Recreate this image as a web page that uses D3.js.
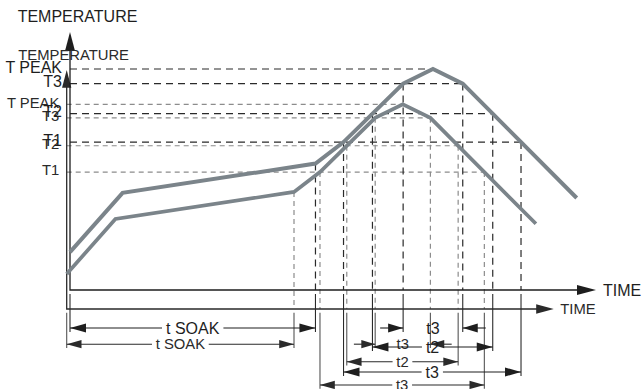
<!DOCTYPE html>
<html>
<head>
<meta charset="utf-8">
<script src="https://cdn.jsdelivr.net/npm/d3@7"></script>
<style>
body{margin:0;background:#fff}
svg{display:block;font-family:"Liberation Sans",Arial,Helvetica,sans-serif}
</style>
</head>
<body>
<svg width="642" height="389"></svg>
<script>
// reflow profile, time vs temperature (chart units, axes run 0..300)
const profileTime = [0, 30, 140, 156, 190, 207, 224, 289]
const profileTemp = [44, 113, 147, 172, 240, 257, 240, 107]

// temperature levels marked on the y axis
const levelNames = ["T1", "T2", "T3", "T PEAK"]
const levelTemps = [172, 205, 240, 257]

// the soak period
const soakStart = 0
const soakEnd = 140

// labels of the spans above T3, T2 and T1 (as printed)
const spanLevels = ["T3", "T2", "T1"]
const spanLabels = ["t3", "t2", "t3"]
const soakLabel = "t SOAK"

const axisLabelY = "TEMPERATURE"
const axisLabelX = "TIME"

// the figure is printed twice, a smaller copy offset behind the first one
const copies = [
	{x0: 66.7, y0: 309, k: 0.926, dash: "5,4", dashColor: "#8c8c8c", ink: "#2a2a2a", ext: "#555"},
	{x0: 70, y0: 290, k: 1, dash: "7,5", dashColor: "#2a2a2a", ink: "#1e1e1e", ext: "#2a2a2a"}
]

// rows of the dimension lines, px below the time axis (unscaled)
const rowOf = {soak: 38, T3: 38, T2: 57, T1: 82}

const curveColor = "#7b848a"

const svg = d3.select("svg")
const layers = {}
;["dash", "ext", "axis", "curve", "dims", "text"].forEach(n => layers[n] = svg.append("g"))

const profile = profileTime.map((t, i) => ({t: t, v: profileTemp[i]}))

// first rising and last falling crossing of a level
const crossings = function(level){
	let up = null, down = null
	for (let i = 0; i < profile.length - 1; i++){
		const a = profile[i], b = profile[i+1]
		const lo = Math.min(a.v, b.v), hi = Math.max(a.v, b.v)
		if (level < lo || level > hi || a.v === b.v) continue
		const t = a.t + (level - a.v) / (b.v - a.v) * (b.t - a.t)
		if (up === null) up = t
		down = t
	}
	return [up, down]
}

const tempAt = function(t){
	return d3.scaleLinear().domain(profileTime).range(profileTemp)(t)
}

// filled arrow head, tip at (x,y), dir = +1 points right, -1 left, "up" points up
const head = function(g, x, y, dir, len, hw, color){
	let pts
	if (dir === "up") pts = [[x, y], [x - hw, y + len], [x + hw, y + len]]
	else pts = [[x, y], [x - dir*len, y - hw], [x - dir*len, y + hw]]
	g.append("path")
		.attr("d", "M" + pts.map(p => p.join(",")).join("L") + "Z")
		.attr("fill", color)
}

copies.forEach(c => {
	const k = c.k
	const x = d3.scaleLinear().domain([0, 300]).range([c.x0, c.x0 + 526*k])
	const y = d3.scaleLinear().domain([0, 300]).range([c.y0, c.y0 - 258*k])
	const fs = 16*k

	// dashed guides
	levelTemps.forEach((lv, i) => {
		const [up, down] = crossings(lv)
		layers.dash.append("line")
			.attr("x1", x(0)).attr("x2", x(down))
			.attr("y1", y(lv)).attr("y2", y(lv))
			.attr("stroke", c.dashColor).attr("stroke-width", 1.2)
			.attr("stroke-dasharray", c.dash)
		if (levelNames[i] === "T PEAK") return
		;[up, down].forEach(t => {
			layers.dash.append("line")
				.attr("x1", x(t)).attr("x2", x(t))
				.attr("y1", y(lv)).attr("y2", y(0))
				.attr("stroke", c.dashColor).attr("stroke-width", 1.2)
				.attr("stroke-dasharray", c.dash)
		})
	})
	layers.dash.append("line")
		.attr("x1", x(soakEnd)).attr("x2", x(soakEnd))
		.attr("y1", y(tempAt(soakEnd))).attr("y2", y(0))
		.attr("stroke", c.dashColor).attr("stroke-width", 1.2)
		.attr("stroke-dasharray", c.dash)

	// axes
	const top = y(300), right = x(300)
	layers.axis.append("path")
		.attr("d", `M${x(0)},${top + 10} V${y(0)} H${right - 10}`)
		.attr("fill", "none").attr("stroke", c.ink).attr("stroke-width", 1.3)
	head(layers.axis, x(0), top, "up", 19*k, 5*k, c.ink)
	head(layers.axis, right, y(0), 1, 19*k, 5*k, c.ink)

	layers.text.append("text")
		.attr("x", x(0) + 7.5*k).attr("y", top - 16*k)
		.attr("dy", "0.35em").attr("text-anchor", "middle")
		.attr("font-size", fs).attr("fill", c.ink)
		.text(axisLabelY)
	layers.text.append("text")
		.attr("x", right + 7*k).attr("y", y(0))
		.attr("dy", "0.35em").attr("font-size", fs).attr("fill", c.ink)
		.text(axisLabelX)

	levelTemps.forEach((lv, i) => {
		layers.text.append("text")
			.attr("x", x(0) - 8*k).attr("y", y(lv) - 2*k)
			.attr("dy", "0.35em").attr("text-anchor", "end")
			.attr("font-size", fs).attr("fill", c.ink)
			.text(levelNames[i])
	})

	// extension lines below the axis
	const ext = function(t, row){
		layers.ext.append("line")
			.attr("x1", x(t)).attr("x2", x(t))
			.attr("y1", y(0) + 4*k).attr("y2", y(0) + (row + 4)*k)
			.attr("stroke", c.ext).attr("stroke-width", 1.1)
	}

	// dimension line with label, arrows inside or outside (outer)
	const dim = function(a, b, row, label, outer){
		const ry = y(0) + row*k
		const g = layers.dims
		const cx = (x(a) + x(b))/2
		const txt = g.append("text")
			.attr("x", cx).attr("y", ry).attr("dy", "0.35em")
			.attr("text-anchor", "middle").attr("font-size", fs).attr("fill", c.ink)
			.text(label)
		const w = txt.node().getComputedTextLength()/2 + 4*k
		if (outer){
			g.append("line").attr("x1", x(a) - 23*k).attr("x2", x(a)).attr("y1", ry).attr("y2", ry)
				.attr("stroke", c.ink).attr("stroke-width", 1.1)
			g.append("line").attr("x1", x(b) + 23*k).attr("x2", x(b)).attr("y1", ry).attr("y2", ry)
				.attr("stroke", c.ink).attr("stroke-width", 1.1)
			head(g, x(a), ry, 1, 15*k, 4.5*k, c.ink)
			head(g, x(b), ry, -1, 15*k, 4.5*k, c.ink)
		} else {
			g.append("line").attr("x1", x(a)).attr("x2", cx - w).attr("y1", ry).attr("y2", ry)
				.attr("stroke", c.ink).attr("stroke-width", 1.1)
			g.append("line").attr("x1", cx + w).attr("x2", x(b)).attr("y1", ry).attr("y2", ry)
				.attr("stroke", c.ink).attr("stroke-width", 1.1)
			head(g, x(a), ry, -1, 16*k, 4.5*k, c.ink)
			head(g, x(b), ry, 1, 16*k, 4.5*k, c.ink)
		}
	}

	ext(soakStart, rowOf.soak)
	ext(soakEnd, rowOf.soak)
	dim(soakStart, soakEnd, rowOf.soak, soakLabel, false)

	spanLevels.forEach((name, i) => {
		const lv = levelTemps[levelNames.indexOf(name)]
		const [up, down] = crossings(lv)
		ext(up, rowOf[name])
		ext(down, rowOf[name])
		dim(up, down, rowOf[name], spanLabels[i], name === "T3")
	})

	// the profile curve
	const line = d3.line().x(d => x(d.t)).y(d => y(d.v))
	layers.curve.append("path")
		.datum(profile)
		.attr("d", line)
		.attr("fill", "none")
		.attr("stroke", curveColor)
		.attr("stroke-width", 4*k)
		.attr("stroke-linejoin", "miter")
})
</script>
</body>
</html>
